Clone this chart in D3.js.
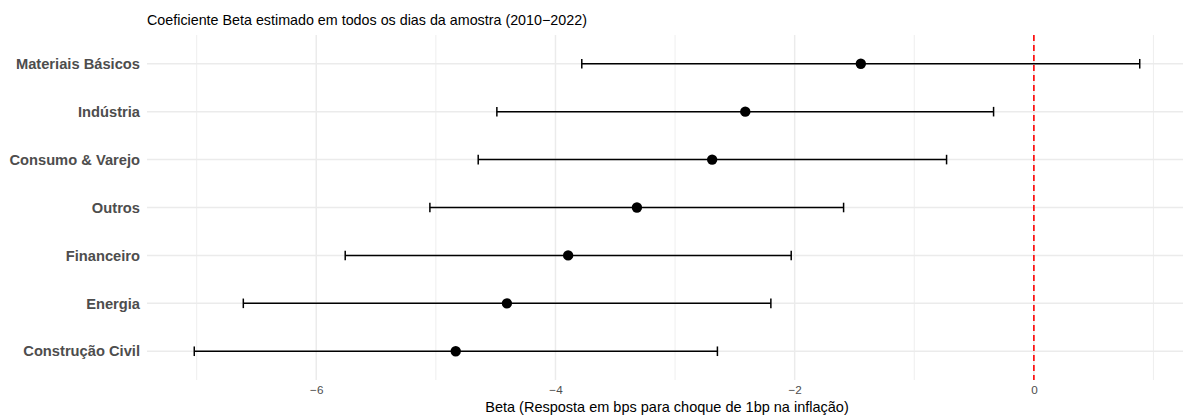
<!DOCTYPE html>
<html>
<head>
<meta charset="utf-8">
<script src="https://cdn.jsdelivr.net/npm/d3@7"></script>
<style>
  html, body { margin: 0; padding: 0; background: #fff; }
  svg { display: block; font-family: "Liberation Sans", Arial, Helvetica, sans-serif; }
</style>
</head>
<body>
<svg id="chart" width="1183" height="416"></svg>
<script>
// ---- data ----
const categories = ["Materiais Básicos", "Indústria", "Consumo & Varejo", "Outros", "Financeiro", "Energia", "Construção Civil"];
const estimates  = [-1.447, -2.413, -2.690, -3.319, -3.894, -4.406, -4.834];
const lowerCI    = [-3.780, -4.490, -4.646, -5.050, -5.758, -6.610, -7.020];
const upperCI    = [ 0.885, -0.337, -0.730, -1.591, -2.029, -2.199, -2.646];
const majorTicks = [-6, -4, -2, 0];
const minorTicks = [-7, -5, -3, -1, 1];
const refLine = 0;
const titleText = "Coeficiente Beta estimado em todos os dias da amostra (2010−2022)";
const xTitleText = "Beta (Resposta em bps para choque de 1bp na inflação)";

const rows = categories.map((c, i) => ({ cat: c, est: estimates[i], lo: lowerCI[i], hi: upperCI[i] }));

// ---- layout ----
const svg = d3.select("#chart");
const panel = { left: 147, right: 1187, top: 35, bottom: 380 };

const lo = d3.min(lowerCI), hi = d3.max(upperCI);
const pad = (hi - lo) * 0.05;
const x = d3.scaleLinear().domain([lo - pad, hi + pad]).range([panel.left, panel.right]);
const y = d3.scalePoint().domain(categories).range([panel.top, panel.bottom]).padding(0.6);
const capHalf = y.step() * 0.1;

const fmt = d => (d < 0 ? "−" + Math.abs(d) : String(d));

// grid
const g = svg.append("g");
g.selectAll("line.minor").data(minorTicks).join("line")
  .attr("x1", d => x(d)).attr("x2", d => x(d))
  .attr("y1", panel.top).attr("y2", panel.bottom)
  .attr("stroke", "#ebebeb").attr("stroke-width", 0.8);
g.selectAll("line.majorx").data(majorTicks).join("line")
  .attr("x1", d => x(d)).attr("x2", d => x(d))
  .attr("y1", panel.top).attr("y2", panel.bottom)
  .attr("stroke", "#ebebeb").attr("stroke-width", 1.5);
g.selectAll("line.majory").data(categories).join("line")
  .attr("x1", panel.left).attr("x2", panel.right)
  .attr("y1", d => y(d)).attr("y2", d => y(d))
  .attr("stroke", "#ebebeb").attr("stroke-width", 1.5);

// reference line
svg.append("line")
  .attr("x1", x(refLine)).attr("x2", x(refLine))
  .attr("y1", panel.top).attr("y2", panel.bottom)
  .attr("stroke", "#ff0000").attr("stroke-width", 1.6)
  .attr("stroke-dasharray", "6,4");

// error bars
const eb = svg.append("g").attr("stroke", "#000").attr("stroke-width", 1.5);
eb.selectAll("line.h").data(rows).join("line")
  .attr("x1", d => x(d.lo)).attr("x2", d => x(d.hi))
  .attr("y1", d => y(d.cat)).attr("y2", d => y(d.cat));
eb.selectAll("line.l").data(rows).join("line")
  .attr("x1", d => x(d.lo)).attr("x2", d => x(d.lo))
  .attr("y1", d => y(d.cat) - capHalf).attr("y2", d => y(d.cat) + capHalf);
eb.selectAll("line.r").data(rows).join("line")
  .attr("x1", d => x(d.hi)).attr("x2", d => x(d.hi))
  .attr("y1", d => y(d.cat) - capHalf).attr("y2", d => y(d.cat) + capHalf);

// points
svg.append("g").selectAll("circle").data(rows).join("circle")
  .attr("cx", d => x(d.est)).attr("cy", d => y(d.cat)).attr("r", 5.2)
  .attr("fill", "#000");

// y axis labels
const yAxis = d3.axisLeft(y).tickSize(0).tickPadding(7);
svg.append("g").attr("transform", `translate(${panel.left},0)`).call(yAxis)
  .call(s => s.select(".domain").remove())
  .selectAll("text")
  .attr("font-family", "'Liberation Sans', Arial, sans-serif")
  .attr("font-size", 14.7).attr("font-weight", "bold").attr("fill", "#4d4d4d");

// x axis labels
const xAxis = d3.axisBottom(x).tickValues(majorTicks).tickFormat(fmt).tickSize(0).tickPadding(6);
svg.append("g").attr("transform", `translate(0,${panel.bottom})`).call(xAxis)
  .call(s => s.select(".domain").remove())
  .selectAll("text")
  .attr("font-family", "'Liberation Sans', Arial, sans-serif")
  .attr("font-size", 11.7).attr("fill", "#4d4d4d");

// x title
svg.append("text")
  .attr("x", (panel.left + panel.right) / 2).attr("y", 412)
  .attr("text-anchor", "middle").attr("font-size", 14.5).attr("fill", "#000")
  .text(xTitleText);

// title
svg.append("text")
  .attr("x", panel.left).attr("y", 25)
  .attr("font-size", 14.3).attr("fill", "#000")
  .text(titleText);
</script>
</body>
</html>
